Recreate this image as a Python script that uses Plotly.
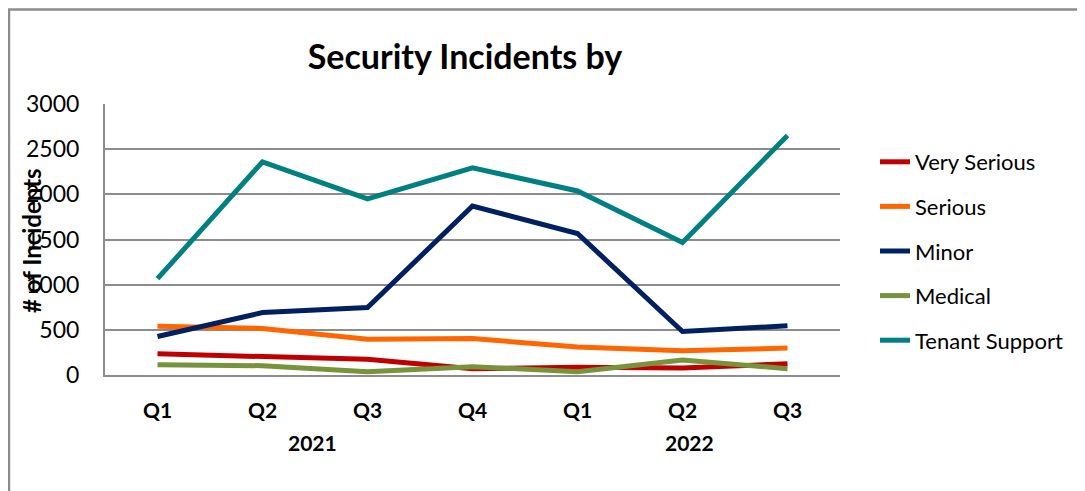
import plotly.graph_objects as go

years = ["2021", "2021", "2021", "2021", "2022", "2022", "2022"]
quarters = ["Q1", "Q2", "Q3", "Q4", "Q1", "Q2", "Q3"]

very_serious = [235, 202, 173, 70, 85, 77, 125]
serious = [540, 515, 397, 404, 309, 268, 298]
minor = [426, 691, 746, 1871, 1566, 482, 544]
medical = [114, 103, 37, 92, 37, 165, 70]
tenant_support = [1066, 2360, 1949, 2294, 2037, 1467, 2651]

series = [
    ("Very Serious", very_serious, "#C00000"),
    ("Serious", serious, "#FF6600"),
    ("Minor", minor, "#002060"),
    ("Medical", medical, "#77933C"),
    ("Tenant Support", tenant_support, "#008080"),
]

FONT = "Lato"
OFF = 8  # page body margin
SW, SH = 1085, 491
W, H = SW - OFF, SH - OFF
# plot area in screen pixels
L, R, T, B = 105, 840, 104, 375

xpos = list(range(len(quarters)))

fig = go.Figure()
for name, vals, color in series:
    fig.add_trace(go.Scatter(
        x=xpos, y=vals, name=name, mode="lines",
        line=dict(color=color, width=5),
        legendgroup=name,
    ))

def px_x(p):
    return (p - L) / (R - L)

def px_y(p):
    return (B - p) / (B - T)

# year group labels centred under their quarters
annotations = []
seen = []
for y in years:
    if y not in seen:
        seen.append(y)
year_shift = {"2021": -3, "2022": 7}
for y in seen:
    idx = [i for i, yy in enumerate(years) if yy == y]
    annotations.append(dict(
        text="<b>%s</b>" % y, xref="x", yref="paper",
        x=sum(idx) / len(idx), y=px_y(442), xanchor="center", yanchor="middle",
        xshift=year_shift.get(y, 0),
        showarrow=False, font=dict(size=21, family=FONT, color="black")))

annotations.append(dict(
    text="<b># of Incidents</b>", xref="paper", yref="paper",
    x=px_x(31), y=px_y(241), xanchor="center", yanchor="middle",
    textangle=-90, showarrow=False,
    font=dict(size=24, family=FONT, color="black")))

fig.update_layout(
    width=W, height=H,
    margin=dict(l=L - OFF, r=SW - R, t=T - OFF, b=SH - B, pad=0),
    paper_bgcolor="white", plot_bgcolor="white",
    font=dict(family=FONT, color="black"),
    title=dict(text="<b>Security Incidents by</b>", xref="container",
               x=(465 - OFF) / W, xanchor="center",
               yref="container", y=1 - (57 - OFF) / H, yanchor="middle",
               font=dict(size=34, family=FONT)),
    showlegend=True,
    legend=dict(x=px_x(875), y=px_y(141), xanchor="left", yanchor="top",
                font=dict(size=22, family=FONT), tracegroupgap=13,
                bgcolor="rgba(0,0,0,0)"),
    xaxis=dict(range=[-0.5, len(quarters) - 0.5], tickmode="array",
               tickvals=xpos, ticktext=["<b>%s</b>" % q for q in quarters],
               showgrid=False, zeroline=False,
               showline=True, linecolor="#8c8c8c", linewidth=2, ticks="",
               tickfont=dict(size=21, family=FONT),
               ticklabelstandoff=16),
    yaxis=dict(range=[0, 3000], dtick=500, showgrid=True, gridcolor="#8c8c8c",
               gridwidth=2, showline=True, linecolor="#8c8c8c", linewidth=2,
               ticks="", tickfont=dict(size=23, family=FONT),
               ticklabelstandoff=19, zeroline=False),
    shapes=[dict(type="rect", xref="paper", yref="paper",
                 x0=px_x(OFF + 1), x1=px_x(SW + 20), y0=px_y(SH + 20), y1=px_y(OFF + 1.5),
                 line=dict(color="#8c8c8c", width=2.5), fillcolor="rgba(0,0,0,0)",
                 layer="below")],
    annotations=annotations,
)

fig.write_html("out.html")
